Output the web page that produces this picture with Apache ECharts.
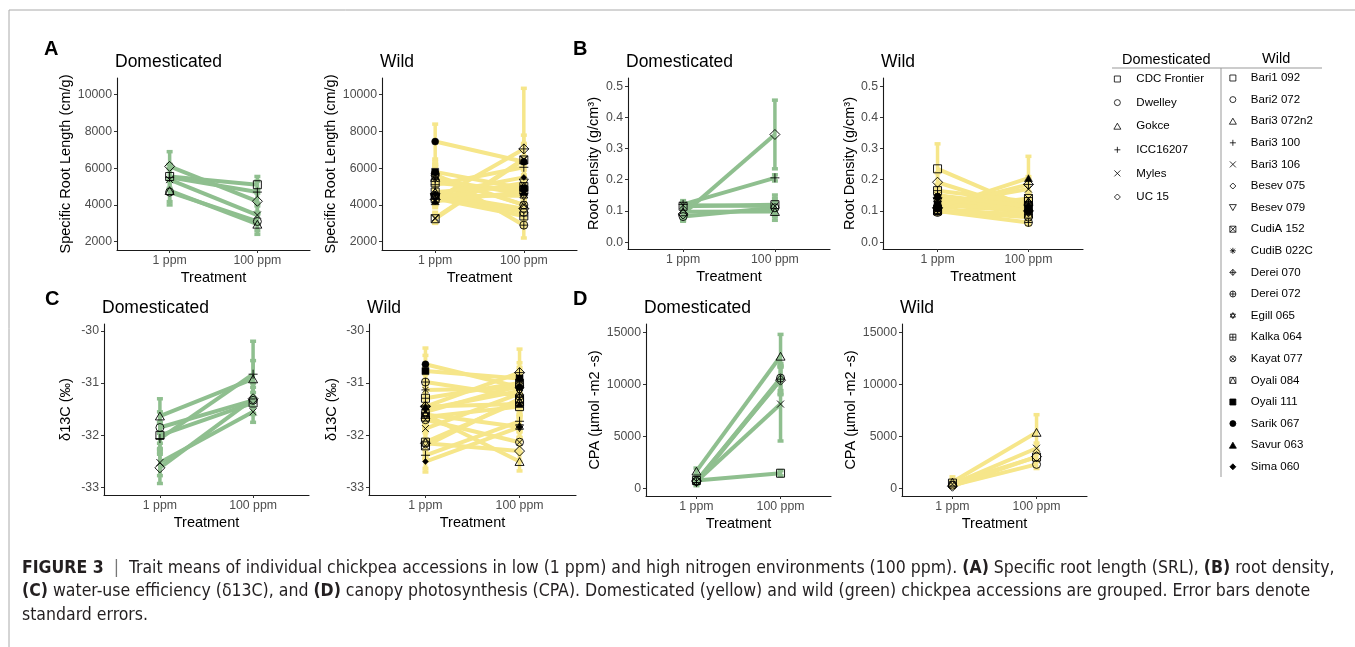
<!DOCTYPE html>
<html><head><meta charset="utf-8">
<script src="https://cdn.jsdelivr.net/npm/echarts@6/dist/echarts.min.js"></script>
<style>html,body{margin:0;padding:0;background:#fff}#c{width:1355px;height:647px}</style>
</head><body><div id="c"></div>
<script>
// ---------- DATA ----------
const categories = ['1 ppm', '100 ppm'];
const domNames = ['CDC Frontier', 'Dwelley', 'Gokce', 'ICC16207', 'Myles', 'UC 15'];
const wildNames = ['Bari1 092', 'Bari2 072', 'Bari3 072n2', 'Bari3 100', 'Bari3 106', 'Besev 075', 'Besev 079',
  'CudiA 152', 'CudiB 022C', 'Derei 070', 'Derei 072', 'Egill 065', 'Kalka 064', 'Kayat 077', 'Oyali 084',
  'Oyali 111', 'Sarik 067', 'Savur 063', 'Sima 060'];

// (A) Specific root length
const srlDom1 = [5550, 4700, 4780, 5500, 5380, 6100];
const srlDom100 = [5100, 3100, 2950, 4700, 3450, 4200];
const srlDomSe1 = [650, 700, 600, 700, 600, 800];
const srlDomSe100 = [450, 500, 550, 600, 500, 650];
const srlWild1 = [5200, 4500, 5500, 5100, 3300, 4600, 4400, 3250, 5400, 4300, 5700, 4500, 4350, 5600, 4700, 5800, 7450, 4200, 4600];
const srlWild100 = [4800, 3600, 4000, 6050, 6500, 3800, 5200, 6450, 4600, 7050, 2900, 4500, 3400, 4000, 5000, 4900, 6350, 4700, 5500];
const srlWildSe1 = [400, 500, 600, 500, 300, 450, 400, 250, 700, 350, 500, 400, 300, 600, 450, 550, 950, 350, 500];
const srlWildSe100 = [500, 600, 700, 600, 1300, 500, 700, 800, 600, 3300, 700, 500, 600, 900, 500, 400, 1000, 500, 600];

// (B) Root density
const rdDom1 = [0.115, 0.082, 0.097, 0.121, 0.118, 0.090];
const rdDom100 = [0.120, 0.110, 0.098, 0.206, 0.116, 0.345];
const rdDomSe1 = [0.012, 0.015, 0.020, 0.012, 0.010, 0.020];
const rdDomSe100 = [0.020, 0.020, 0.028, 0.010, 0.035, 0.110];
const rdWild1 = [0.235, 0.100, 0.120, 0.140, 0.120, 0.192, 0.130, 0.105, 0.150, 0.110, 0.100, 0.125, 0.165, 0.095, 0.100, 0.120, 0.145, 0.110, 0.150];
const rdWild100 = [0.110, 0.080, 0.130, 0.120, 0.170, 0.100, 0.110, 0.140, 0.100, 0.185, 0.063, 0.095, 0.130, 0.120, 0.090, 0.105, 0.100, 0.205, 0.115];
const rdWildSe1 = [0.080, 0.010, 0.015, 0.015, 0.020, 0.030, 0.015, 0.012, 0.020, 0.015, 0.010, 0.015, 0.020, 0.005, 0.008, 0.015, 0.020, 0.015, 0.020];
const rdWildSe100 = [0.020, 0.015, 0.020, 0.015, 0.030, 0.020, 0.015, 0.020, 0.015, 0.025, 0.008, 0.015, 0.020, 0.020, 0.015, 0.015, 0.020, 0.070, 0.020];

// (C) delta 13C
const dcDom1 = [-32.00, -31.85, -31.63, -32.06, -32.52, -32.62];
const dcDom100 = [-31.38, -31.33, -30.92, -30.83, -31.55, -31.30];
const dcDomSe1 = [0.25, 0.30, 0.33, 0.30, 0.25, 0.30];
const dcDomSe100 = [0.20, 0.25, 0.35, 0.63, 0.20, 0.30];
const dcWild1 = [-31.65, -31.55, -31.60, -32.38, -31.87, -32.15, -31.50, -32.20, -31.13, -31.45, -30.98, -31.60, -31.29, -31.70, -32.13, -30.77, -30.64, -31.45, -32.50];
const dcWild100 = [-31.45, -31.05, -32.50, -31.73, -31.20, -32.30, -31.15, -31.30, -31.10, -30.80, -31.25, -31.84, -31.00, -32.13, -31.35, -30.91, -31.08, -31.40, -31.84];
const dcWildSe1 = [0.20, 0.25, 0.20, 0.25, 0.20, 0.30, 0.20, 0.25, 0.30, 0.25, 0.30, 0.20, 0.25, 0.20, 0.25, 0.30, 0.31, 0.20, 0.20];
const dcWildSe100 = [0.25, 0.30, 0.18, 0.20, 0.25, 0.20, 0.25, 0.20, 0.30, 0.45, 0.25, 0.20, 0.30, 0.20, 0.25, 0.30, 0.25, 0.20, 0.20];

// (D) Canopy photosynthesis
const cpaDom1 = [750, 650, 1650, 550, 650, 700];
const cpaDom100 = [1450, 10600, 12700, 10500, 8100, 10400];
const cpaDomSe1 = [200, 250, 300, 300, 250, 200];
const cpaDomSe100 = [250, 1200, 2100, 1500, 3550, 1300];
const cpaWild1 = [500, 300, 600, null, 400, 200, null, null, null, null, null, null, null, null, null, null, null, null, null];
const cpaWild100 = [3000, 2300, 5380, null, 3850, 3050, null, null, null, null, null, null, null, null, null, null, null, null, null];
const cpaWildSe1 = [300, 200, 500, null, 300, 150, null, null, null, null, null, null, null, null, null, null, null, null, null];
const cpaWildSe100 = [400, 400, 1700, null, 500, 450, null, null, null, null, null, null, null, null, null, null, null, null, null];

// Tick labels
const srlTicks = [2000, 4000, 6000, 8000, 10000];
const rdTicks = [0.0, 0.1, 0.2, 0.3, 0.4, 0.5];
const dcTicks = [-33, -32, -31, -30];
const cpaTicks = [0, 5000, 10000, 15000];

// ---------- STYLE ----------
const FONT = '"Liberation Sans", Arial, sans-serif';
const GREEN = '#8fbf8f';
const YELLOW = '#f6e68a';
const CIRC = 'M0,5A5,5,0,1,1,10,5A5,5,0,1,1,0,5Z';
const shapes = [
  {p: 'M0,0L10,0L10,10L0,10Z', f: false, s: 8},
  {p: CIRC, f: false, s: 8},
  {p: 'M5,0L10,8.66L0,8.66Z', f: false, s: 9},
  {p: 'M5,0L5,10M0,5L10,5', f: false, s: 9},
  {p: 'M0,0L10,10M10,0L0,10', f: false, s: 7},
  {p: 'M5,0L10,5L5,10L0,5Z', f: false, s: 10},
  {p: 'M0,0L10,0L5,8.66Z', f: false, s: 9},
  {p: 'M0,0L10,0L10,10L0,10ZM0,0L10,10M10,0L0,10', f: false, s: 8},
  {p: 'M5,0L5,10M0,5L10,5M1.5,1.5L8.5,8.5M8.5,1.5L1.5,8.5', f: false, s: 8},
  {p: 'M5,0L10,5L5,10L0,5ZM5,0L5,10M0,5L10,5', f: false, s: 10},
  {p: CIRC + 'M5,0L5,10M0,5L10,5', f: false, s: 8},
  {p: 'M5,0L9.33,7.5L0.67,7.5ZM5,10L0.67,2.5L9.33,2.5Z', f: false, s: 9},
  {p: 'M0,0L10,0L10,10L0,10ZM5,0L5,10M0,5L10,5', f: false, s: 8},
  {p: CIRC + 'M1.46,1.46L8.54,8.54M8.54,1.46L1.46,8.54', f: false, s: 8},
  {p: 'M0,0L10,0L10,10L0,10ZM0,10L5,0L10,10', f: false, s: 8},
  {p: 'M0,0L10,0L10,10L0,10Z', f: true, s: 7},
  {p: CIRC, f: true, s: 7},
  {p: 'M5,0L10,8.66L0,8.66Z', f: true, s: 8},
  {p: 'M5,0L10,5L5,10L0,5Z', f: true, s: 6}
];

const panels = [
  {g: 'dom', d: [srlDom1, srlDom100, srlDomSe1, srlDomSe100], grid: {left: 117, top: 78, width: 193, height: 172}, y: [1547, 10911], ticks: srlTicks, name: 'Specific Root Length (cm/g)', gap: 41, title: 'Domesticated'},
  {g: 'wild', d: [srlWild1, srlWild100, srlWildSe1, srlWildSe100], grid: {left: 382, top: 78, width: 195, height: 172}, y: [1547, 10911], ticks: srlTicks, name: 'Specific Root Length (cm/g)', gap: 42, title: 'Wild'},
  {g: 'dom', d: [rdDom1, rdDom100, rdDomSe1, rdDomSe100], grid: {left: 628, top: 78, width: 202, height: 171}, y: [-0.022, 0.526], ticks: rdTicks, name: 'Root Density (g/cm³)', gap: 27, title: 'Domesticated'},
  {g: 'wild', d: [rdWild1, rdWild100, rdWildSe1, rdWildSe100], grid: {left: 883, top: 78, width: 200, height: 171}, y: [-0.022, 0.526], ticks: rdTicks, name: 'Root Density (g/cm³)', gap: 26, title: 'Wild'},
  {g: 'dom', d: [dcDom1, dcDom100, dcDomSe1, dcDomSe100], grid: {left: 104, top: 324, width: 205, height: 171}, y: [-33.14, -29.87], ticks: dcTicks, name: 'δ13C (‰)', gap: 31, title: 'Domesticated'},
  {g: 'wild', d: [dcWild1, dcWild100, dcWildSe1, dcWildSe100], grid: {left: 369, top: 324, width: 207, height: 171}, y: [-33.14, -29.87], ticks: dcTicks, name: 'δ13C (‰)', gap: 30, title: 'Wild'},
  {g: 'dom', d: [cpaDom1, cpaDom100, cpaDomSe1, cpaDomSe100], grid: {left: 646, top: 324, width: 185, height: 172}, y: [-740, 15800], ticks: cpaTicks, name: 'CPA (µmol -m2 -s)', gap: 43, title: 'Domesticated'},
  {g: 'wild', d: [cpaWild1, cpaWild100, cpaWildSe1, cpaWildSe100], grid: {left: 902, top: 324, width: 185, height: 172}, y: [-740, 15800], ticks: cpaTicks, name: 'CPA (µmol -m2 -s)', gap: 43, title: 'Wild'}
];

const grids = [], xAxes = [], yAxes = [], series = [], graphics = [];

panels.forEach((P, pi) => {
  grids.push(P.grid);
  xAxes.push({
    type: 'value', gridIndex: pi, min: 0.4, max: 2.6,
    name: 'Treatment', nameLocation: 'middle', nameGap: 20,
    nameTextStyle: {fontFamily: FONT, fontSize: 14.5, color: '#000'},
    axisLine: {onZero: false, lineStyle: {color: '#1a1a1a', width: 1.1}},
    axisTick: {customValues: [1, 2], length: 3, lineStyle: {color: '#333'}},
    axisLabel: {customValues: [1, 2], margin: 5, fontFamily: FONT, fontSize: 12.3, color: '#4d4d4d',
      formatter: v => categories[Math.round(v) - 1] || ''},
    splitLine: {show: false}
  });
  yAxes.push({
    type: 'value', gridIndex: pi, min: P.y[0], max: P.y[1],
    name: P.name, nameLocation: 'middle', nameGap: P.gap,
    nameTextStyle: {fontFamily: FONT, fontSize: 14.5, color: '#000'},
    axisLine: {show: true, onZero: false, lineStyle: {color: '#1a1a1a', width: 1.1}},
    axisTick: {show: true, customValues: P.ticks, length: 3, lineStyle: {color: '#333'}},
    axisLabel: {customValues: P.ticks, margin: 5, fontFamily: FONT, fontSize: 12.3, color: '#4d4d4d',
      formatter: v => (P.ticks === rdTicks ? v.toFixed(1) : String(v))},
    splitLine: {show: false}
  });
  const names = P.g === 'dom' ? domNames : wildNames;
  const color = P.g === 'dom' ? GREEN : YELLOW;
  const [m1, m2, s1, s2] = P.d;
  const eb = [];
  names.forEach((n, i) => {
    if (m1[i] == null) return;
    eb.push([1, m1[i] - s1[i], m1[i] + s1[i]]);
    eb.push([2, m2[i] - s2[i], m2[i] + s2[i]]);
  });
  series.push({
    type: 'custom', xAxisIndex: pi, yAxisIndex: pi, data: eb, z: 1, silent: true,
    encode: {x: 0, y: [1, 2]},
    renderItem: (params, api) => {
      const x = api.value(0);
      const a = api.coord([x, api.value(1)]), b = api.coord([x, api.value(2)]);
      const st = {stroke: color, lineWidth: 3.5};
      return {type: 'group', children: [
        {type: 'line', shape: {x1: a[0], y1: a[1], x2: b[0], y2: b[1]}, style: st},
        {type: 'line', shape: {x1: a[0] - 3, y1: a[1], x2: a[0] + 3, y2: a[1]}, style: st},
        {type: 'line', shape: {x1: b[0] - 3, y1: b[1], x2: b[0] + 3, y2: b[1]}, style: st}
      ]};
    }
  });
  names.forEach((n, i) => {
    if (m1[i] == null) return;
    series.push({
      type: 'line', xAxisIndex: pi, yAxisIndex: pi, data: [[1, m1[i]], [2, m2[i]]],
      symbol: 'none', lineStyle: {color, width: 4}, itemStyle: {color}, z: 2, silent: true
    });
  });
  names.forEach((n, i) => {
    if (m1[i] == null) return;
    const sh = shapes[i];
    series.push({
      type: 'scatter', name: n, xAxisIndex: pi, yAxisIndex: pi, data: [[1, m1[i]], [2, m2[i]]],
      symbol: 'path://' + sh.p, symbolSize: sh.s, symbolKeepAspect: true,
      itemStyle: {color: sh.f ? '#000' : 'rgba(0,0,0,0)', borderColor: '#000', borderWidth: sh.f ? 0.5 : 0.9, opacity: 1},
      z: 3, silent: true
    });
  });
  graphics.push({type: 'text', left: P.grid.left - 2, top: P.grid.top - 25,
    style: {text: P.title, fontFamily: FONT, fontSize: 17.5, fill: '#000'}});
});

// panel letters
[['A', 44, 39], ['B', 573, 39], ['C', 45, 289], ['D', 573, 289]].forEach(([t, x, y]) => {
  graphics.push({type: 'text', left: x, top: y, style: {text: t, fontFamily: FONT, fontSize: 20, fontWeight: 'bold', fill: '#000'}});
});

// legend decorations
graphics.push({type: 'text', left: 1122, top: 52, style: {text: 'Domesticated', fontFamily: FONT, fontSize: 14.5, fill: '#000'}});
graphics.push({type: 'text', left: 1262, top: 51, style: {text: 'Wild', fontFamily: FONT, fontSize: 14.5, fill: '#000'}});
graphics.push({type: 'line', shape: {x1: 1112, y1: 68, x2: 1322, y2: 68}, style: {stroke: '#999', lineWidth: 1}});
graphics.push({type: 'line', shape: {x1: 1221, y1: 68, x2: 1221, y2: 477}, style: {stroke: '#999', lineWidth: 1}});
// frame
graphics.push({type: 'line', shape: {x1: 9, y1: 10, x2: 1355, y2: 10}, style: {stroke: '#aaa', lineWidth: 1}});
graphics.push({type: 'line', shape: {x1: 9, y1: 10, x2: 9, y2: 647}, style: {stroke: '#aaa', lineWidth: 1}});

// caption
const CAPF = '"Liberation Sans Narrow", "DejaVu Sans Condensed", sans-serif';
const CAPS = 17.5;
const capRich = {b: {fontWeight: 'bold', fontFamily: CAPF, fontSize: CAPS, fill: '#231f20'}, g: {fontFamily: CAPF, fontSize: CAPS, fill: '#777'}};
const capLines = [
  '{b|FIGURE 3}  {g||}  Trait means of individual chickpea accessions in low (1 ppm) and high nitrogen environments (100 ppm). {b|(A)} Specific root length (SRL), {b|(B)} root density,',
  '{b|(C)} water-use efficiency (δ13C), and {b|(D)} canopy photosynthesis (CPA). Domesticated (yellow) and wild (green) chickpea accessions are grouped. Error bars denote',
  'standard errors.'
];
capLines.forEach((t, i) => {
  graphics.push({type: 'text', left: 22, top: 559 + i * 23.7,
    style: {text: t, rich: capRich, fontFamily: CAPF, fontSize: CAPS, fill: '#231f20'}});
});

function legendData(names) {
  return names.map((n, i) => ({
    name: n, icon: 'path://' + shapes[i].p,
    itemStyle: {color: shapes[i].f ? '#000' : 'rgba(0,0,0,0)', borderColor: '#000', borderWidth: 0.8}
  }));
}

const chart = echarts.init(document.getElementById('c'));
chart.setOption({
  animation: false,
  backgroundColor: '#fff',
  grid: grids, xAxis: xAxes, yAxis: yAxes, series,
  legend: [
    {orient: 'vertical', left: 1113.5, top: 72, padding: 0, itemWidth: 28, itemHeight: 6, itemGap: 9.6,
      selectedMode: false, data: legendData(domNames),
      textStyle: {fontFamily: FONT, fontSize: 11.5, color: '#000', lineHeight: 14}},
    {orient: 'vertical', left: 1229, top: 71, padding: 0, itemWidth: 26, itemHeight: 6, itemGap: 7.6,
      selectedMode: false, data: legendData(wildNames),
      textStyle: {fontFamily: FONT, fontSize: 11.5, color: '#000', lineHeight: 14}}
  ],
  graphic: graphics
});
</script></body></html>
